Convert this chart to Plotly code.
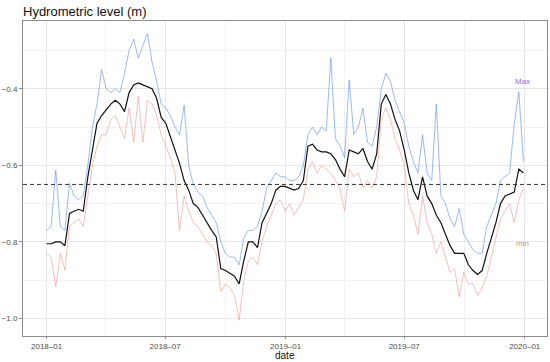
import plotly.graph_objects as go
import pandas as pd

# weekly dates starting 2018-01-01
start_date = "2018-01-01"
n_weeks = 105
dates = pd.date_range(start_date, periods=n_weeks, freq="7D")

median_level = [
    -0.805, -0.805, -0.800, -0.800, -0.810, -0.726, -0.720, -0.715, -0.720, -0.630,
    -0.560, -0.490, -0.470, -0.456, -0.440, -0.430, -0.440, -0.460, -0.410, -0.390,
    -0.385, -0.390, -0.395, -0.400, -0.425, -0.475, -0.490, -0.525, -0.560, -0.595,
    -0.640, -0.665, -0.700, -0.710, -0.730, -0.752, -0.770, -0.787, -0.870, -0.875,
    -0.883, -0.890, -0.910, -0.850, -0.800, -0.800, -0.815, -0.750, -0.725, -0.700,
    -0.665, -0.655, -0.655, -0.660, -0.665, -0.660, -0.640, -0.550, -0.545, -0.560,
    -0.565, -0.565, -0.570, -0.585, -0.610, -0.630, -0.560, -0.565, -0.570, -0.556,
    -0.590, -0.610, -0.570, -0.440, -0.415, -0.440, -0.480, -0.510, -0.560, -0.620,
    -0.665, -0.690, -0.630, -0.680, -0.700, -0.730, -0.750, -0.780, -0.810, -0.830,
    -0.830, -0.830, -0.860, -0.875, -0.885, -0.875, -0.830, -0.790, -0.750, -0.700,
    -0.680, -0.675, -0.670, -0.610, -0.620,
]

max_level = [
    -0.770, -0.760, -0.613, -0.760, -0.770, -0.647, -0.680, -0.690, -0.680, -0.600,
    -0.500, -0.440, -0.350, -0.400, -0.410, -0.400, -0.410, -0.360, -0.300, -0.270,
    -0.320, -0.290, -0.255, -0.330, -0.380, -0.440, -0.450, -0.470, -0.500, -0.520,
    -0.443, -0.600, -0.650, -0.670, -0.680, -0.710, -0.730, -0.750, -0.800, -0.830,
    -0.840, -0.840, -0.860, -0.790, -0.770, -0.770, -0.760, -0.720, -0.660, -0.640,
    -0.620, -0.630, -0.630, -0.640, -0.640, -0.630, -0.600, -0.520, -0.500, -0.520,
    -0.500, -0.510, -0.320, -0.530, -0.550, -0.580, -0.377, -0.520, -0.500, -0.451,
    -0.540, -0.550, -0.500, -0.400, -0.360, -0.380, -0.430, -0.460, -0.490, -0.550,
    -0.590, -0.620, -0.520, -0.620, -0.640, -0.440, -0.680, -0.700, -0.740, -0.760,
    -0.713, -0.780, -0.800, -0.820, -0.830, -0.830, -0.760, -0.730, -0.700, -0.640,
    -0.630, -0.620, -0.490, -0.408, -0.590,
]

min_level = [
    -0.830, -0.840, -0.918, -0.830, -0.874, -0.760, -0.750, -0.740, -0.760, -0.680,
    -0.600, -0.550, -0.520, -0.520, -0.480, -0.470, -0.500, -0.530, -0.450, -0.540,
    -0.420, -0.540, -0.430, -0.440, -0.470, -0.520, -0.550, -0.580, -0.620, -0.770,
    -0.680, -0.720, -0.750, -0.760, -0.780, -0.800, -0.810, -0.830, -0.930, -0.910,
    -0.920, -0.940, -1.005, -0.900, -0.850, -0.840, -0.860, -0.800, -0.760, -0.730,
    -0.700, -0.690, -0.720, -0.700, -0.730, -0.710, -0.690, -0.610, -0.590, -0.620,
    -0.600, -0.610, -0.620, -0.640, -0.660, -0.720, -0.610, -0.630, -0.620, -0.660,
    -0.640, -0.660, -0.630, -0.480, -0.450, -0.480, -0.530, -0.560, -0.600, -0.700,
    -0.730, -0.780, -0.680, -0.750, -0.780, -0.830, -0.800, -0.840, -0.880, -0.870,
    -0.944, -0.880, -0.910, -0.910, -0.940, -0.920, -0.890, -0.840, -0.790, -0.740,
    -0.720, -0.700, -0.750, -0.690, -0.660,
]

threshold = -0.65
y_ticks = [-1.0, -0.8, -0.6, -0.4]
x_ticks = ["2018-01-01", "2018-07-01", "2019-01-01", "2019-07-01", "2020-01-01"]
x_tick_labels = ["2018\u201301", "2018\u201307", "2019\u201301", "2019\u201307", "2020\u201301"]
y_range = [-1.046, -0.223]
x_range = ["2017-11-26", "2020-02-04"]

FONT = "Liberation Sans, Arial, sans-serif"

fig = go.Figure()
fig.add_trace(go.Scatter(x=dates, y=min_level, mode="lines",
                         line=dict(color="rgba(240,128,128,0.5)", width=1),
                         showlegend=False, hoverinfo="skip"))
fig.add_trace(go.Scatter(x=dates, y=max_level, mode="lines",
                         line=dict(color="rgba(100,149,237,0.65)", width=1),
                         showlegend=False, hoverinfo="skip"))
fig.add_trace(go.Scatter(x=dates, y=median_level, mode="lines",
                         line=dict(color="#111111", width=1.2),
                         showlegend=False))

fig.add_hline(y=threshold, line=dict(color="#333333", width=1, dash="4px,3px"))

fig.add_annotation(x="2019-12-28", y=-0.38, text="Max", showarrow=False,
                   font=dict(family=FONT, size=8, color="#7f6ff0"))
fig.add_annotation(x="2019-12-29", y=-0.804, text="min", showarrow=False,
                   font=dict(family=FONT, size=8, color="#c99a6a"))
fig.add_annotation(x=0.5, xref="paper", y=-0.0825, yref="paper", yanchor="bottom",
                   text="date", showarrow=False, borderpad=0,
                   font=dict(family=FONT, size=10, color="#111111"))

fig.update_layout(
    width=550, height=362,
    margin=dict(l=23, r=3, t=21, b=26),
    paper_bgcolor="white", plot_bgcolor="white",
    font=dict(family=FONT, color="#4d4d4d", size=8),
    title=dict(text="Hydrometric level (m)", x=23/550, xanchor="left",
               y=1 - 11/362, yanchor="middle", automargin=False,
               font=dict(family=FONT, size=13, color="#111111")),
)
fig.update_xaxes(
    range=x_range, tickvals=x_ticks, ticktext=x_tick_labels, automargin=False,
    showgrid=True, gridcolor="#e6e6e6", gridwidth=1,
    minor=dict(dtick="M3", tick0="2018-01-01", showgrid=True, gridcolor="#f2f2f2", gridwidth=1),
    showline=True, mirror=True, linecolor="#8c8c8c", linewidth=1,
    ticks="outside", ticklen=2, tickcolor="#8c8c8c",
    tickfont=dict(size=8, color="#4d4d4d"),
    zeroline=False,
)
fig.update_yaxes(
    range=y_range, tickvals=y_ticks, tickformat=".1f", automargin=False,
    showgrid=True, gridcolor="#e6e6e6", gridwidth=1,
    minor=dict(dtick=0.1, tick0=-1.0, showgrid=True, gridcolor="#f2f2f2", gridwidth=1),
    showline=True, mirror=True, linecolor="#8c8c8c", linewidth=1,
    ticks="outside", ticklen=3, tickcolor="#8c8c8c",
    tickfont=dict(size=8, color="#4d4d4d"),
    zeroline=False,
)

fig.write_html("out.html", config={"displayModeBar": False},
               post_script="document.body.style.margin='0';document.body.style.overflow='hidden';")
